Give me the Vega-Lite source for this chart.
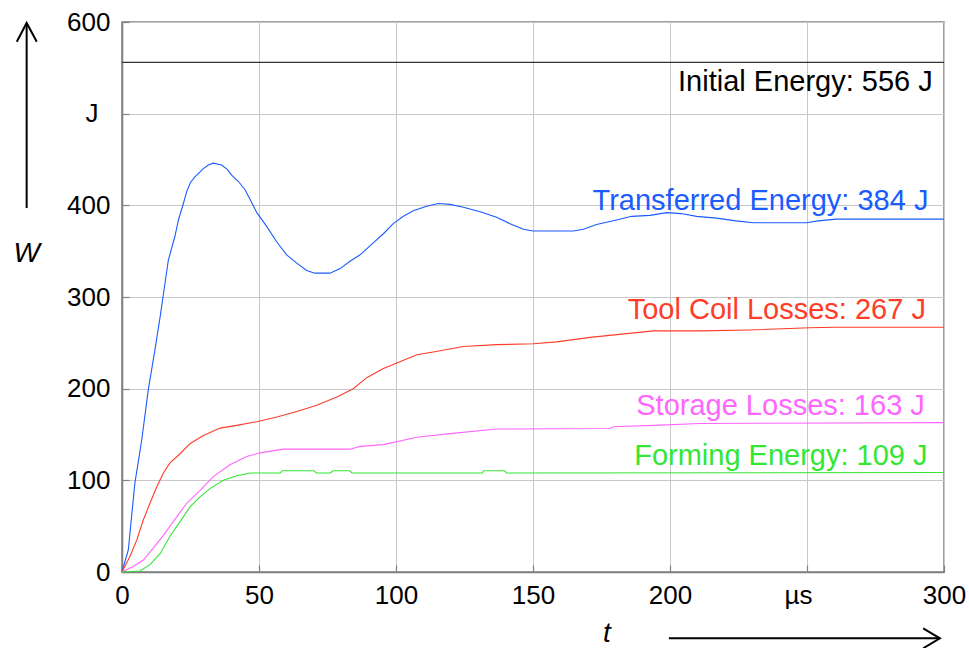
{
  "$schema": "https://vega.github.io/schema/vega-lite/v6.json",
  "width": 822,
  "height": 550,
  "autosize": {"type": "none"},
  "padding": {"left": 122, "top": 22, "right": 25, "bottom": 76},
  "background": "white",
  "config": {
    "font": "Liberation Sans",
    "view": {"stroke": "#808080", "strokeWidth": 1.5},
    "axis": {
      "labelFont": "Liberation Sans",
      "labelFontSize": 26,
      "labelColor": "black",
      "gridColor": "#c8c8c8",
      "gridWidth": 1,
      "domainColor": "#808080",
      "domainWidth": 1.5,
      "ticks": true,
      "tickSize": -7,
      "tickColor": "#808080",
      "tickWidth": 1.2,
      "labelFlush": false,
      "labelOverlap": false,
      "labelBound": false,
      "title": null
    }
  },
  "datasets": {
    "curves": [
      {"series": "Initial", "t": 0, "W": 556}, {"series": "Initial", "t": 300, "W": 556},
      {"series": "Transferred", "t": 0, "W": 0}, {"series": "Transferred", "t": 2.3, "W": 24}, {"series": "Transferred", "t": 4.7, "W": 97}, {"series": "Transferred", "t": 7.2, "W": 144}, {"series": "Transferred", "t": 9.6, "W": 199}, {"series": "Transferred", "t": 12, "W": 242}, {"series": "Transferred", "t": 13.9, "W": 278}, {"series": "Transferred", "t": 15.7, "W": 315}, {"series": "Transferred", "t": 16.9, "W": 340}, {"series": "Transferred", "t": 19.3, "W": 366}, {"series": "Transferred", "t": 20.6, "W": 384}, {"series": "Transferred", "t": 22.4, "W": 402}, {"series": "Transferred", "t": 23.6, "W": 415}, {"series": "Transferred", "t": 25, "W": 425}, {"series": "Transferred", "t": 26.6, "W": 431}, {"series": "Transferred", "t": 29.7, "W": 440}, {"series": "Transferred", "t": 31.5, "W": 444}, {"series": "Transferred", "t": 33.3, "W": 446}, {"series": "Transferred", "t": 36.4, "W": 444}, {"series": "Transferred", "t": 38.5, "W": 439}, {"series": "Transferred", "t": 40, "W": 433}, {"series": "Transferred", "t": 42.5, "W": 426}, {"series": "Transferred", "t": 44.9, "W": 417}, {"series": "Transferred", "t": 47, "W": 405}, {"series": "Transferred", "t": 49.2, "W": 392}, {"series": "Transferred", "t": 52.8, "W": 377}, {"series": "Transferred", "t": 56.5, "W": 360}, {"series": "Transferred", "t": 60.1, "W": 346}, {"series": "Transferred", "t": 63.8, "W": 337}, {"series": "Transferred", "t": 67.4, "W": 329}, {"series": "Transferred", "t": 70.4, "W": 326}, {"series": "Transferred", "t": 75.9, "W": 326}, {"series": "Transferred", "t": 79.6, "W": 331}, {"series": "Transferred", "t": 83.2, "W": 339}, {"series": "Transferred", "t": 86.9, "W": 346}, {"series": "Transferred", "t": 91.7, "W": 359}, {"series": "Transferred", "t": 95.4, "W": 369}, {"series": "Transferred", "t": 99, "W": 380}, {"series": "Transferred", "t": 102.7, "W": 388}, {"series": "Transferred", "t": 106.3, "W": 394}, {"series": "Transferred", "t": 111.2, "W": 399}, {"series": "Transferred", "t": 115.5, "W": 402}, {"series": "Transferred", "t": 119.7, "W": 401}, {"series": "Transferred", "t": 124.6, "W": 398}, {"series": "Transferred", "t": 130.7, "W": 393}, {"series": "Transferred", "t": 136.7, "W": 387}, {"series": "Transferred", "t": 141.6, "W": 380}, {"series": "Transferred", "t": 146.5, "W": 374}, {"series": "Transferred", "t": 150.1, "W": 372}, {"series": "Transferred", "t": 164.7, "W": 372}, {"series": "Transferred", "t": 168.4, "W": 374}, {"series": "Transferred", "t": 173.2, "W": 379}, {"series": "Transferred", "t": 180.5, "W": 384}, {"series": "Transferred", "t": 186, "W": 388}, {"series": "Transferred", "t": 192.7, "W": 389}, {"series": "Transferred", "t": 198.8, "W": 392}, {"series": "Transferred", "t": 204, "W": 391}, {"series": "Transferred", "t": 209.7, "W": 388}, {"series": "Transferred", "t": 217, "W": 386}, {"series": "Transferred", "t": 224, "W": 383}, {"series": "Transferred", "t": 230.4, "W": 381}, {"series": "Transferred", "t": 249.9, "W": 381}, {"series": "Transferred", "t": 254, "W": 383}, {"series": "Transferred", "t": 260.8, "W": 385}, {"series": "Transferred", "t": 300, "W": 385},
      {"series": "Tool", "t": 0, "W": 0}, {"series": "Tool", "t": 2.9, "W": 17}, {"series": "Tool", "t": 5.4, "W": 35}, {"series": "Tool", "t": 7.8, "W": 57}, {"series": "Tool", "t": 10.2, "W": 75}, {"series": "Tool", "t": 12.7, "W": 93}, {"series": "Tool", "t": 15.1, "W": 108}, {"series": "Tool", "t": 17.5, "W": 119}, {"series": "Tool", "t": 21.2, "W": 129}, {"series": "Tool", "t": 24.8, "W": 140}, {"series": "Tool", "t": 29.7, "W": 149}, {"series": "Tool", "t": 35.8, "W": 157}, {"series": "Tool", "t": 41.9, "W": 160}, {"series": "Tool", "t": 49.2, "W": 164}, {"series": "Tool", "t": 56.5, "W": 169}, {"series": "Tool", "t": 63.8, "W": 175}, {"series": "Tool", "t": 71.1, "W": 182}, {"series": "Tool", "t": 78.4, "W": 191}, {"series": "Tool", "t": 84.4, "W": 200}, {"series": "Tool", "t": 89.3, "W": 212}, {"series": "Tool", "t": 95.4, "W": 222}, {"series": "Tool", "t": 100.3, "W": 228}, {"series": "Tool", "t": 107.6, "W": 237}, {"series": "Tool", "t": 113.6, "W": 240}, {"series": "Tool", "t": 124.6, "W": 246}, {"series": "Tool", "t": 136.7, "W": 248}, {"series": "Tool", "t": 150.1, "W": 249}, {"series": "Tool", "t": 158.6, "W": 251}, {"series": "Tool", "t": 170.8, "W": 256}, {"series": "Tool", "t": 184.2, "W": 260}, {"series": "Tool", "t": 193.9, "W": 263}, {"series": "Tool", "t": 211, "W": 263}, {"series": "Tool", "t": 229, "W": 264}, {"series": "Tool", "t": 251, "W": 266.5}, {"series": "Tool", "t": 260, "W": 267}, {"series": "Tool", "t": 300, "W": 267},
      {"series": "Storage", "t": 0, "W": 0}, {"series": "Storage", "t": 4.1, "W": 6}, {"series": "Storage", "t": 7.8, "W": 13}, {"series": "Storage", "t": 11.4, "W": 26}, {"series": "Storage", "t": 15.1, "W": 40}, {"series": "Storage", "t": 18.7, "W": 55}, {"series": "Storage", "t": 23.6, "W": 75}, {"series": "Storage", "t": 28.5, "W": 89}, {"series": "Storage", "t": 33.3, "W": 104}, {"series": "Storage", "t": 39.4, "W": 117}, {"series": "Storage", "t": 45.5, "W": 126}, {"series": "Storage", "t": 50.4, "W": 130}, {"series": "Storage", "t": 58.9, "W": 134}, {"series": "Storage", "t": 72.3, "W": 134}, {"series": "Storage", "t": 83.2, "W": 134}, {"series": "Storage", "t": 86.9, "W": 137}, {"series": "Storage", "t": 95.4, "W": 139}, {"series": "Storage", "t": 107.6, "W": 147}, {"series": "Storage", "t": 119.7, "W": 151}, {"series": "Storage", "t": 136.7, "W": 156}, {"series": "Storage", "t": 178, "W": 156.5}, {"series": "Storage", "t": 179.3, "W": 158.5}, {"series": "Storage", "t": 194, "W": 160}, {"series": "Storage", "t": 211, "W": 162}, {"series": "Storage", "t": 300, "W": 163},
      {"series": "Forming", "t": 0, "W": 0}, {"series": "Forming", "t": 6.6, "W": 1}, {"series": "Forming", "t": 10.2, "W": 8}, {"series": "Forming", "t": 13.9, "W": 20}, {"series": "Forming", "t": 17.5, "W": 39}, {"series": "Forming", "t": 21.2, "W": 55}, {"series": "Forming", "t": 24.8, "W": 71}, {"series": "Forming", "t": 28.5, "W": 82}, {"series": "Forming", "t": 32.1, "W": 91}, {"series": "Forming", "t": 37, "W": 100}, {"series": "Forming", "t": 41.9, "W": 105}, {"series": "Forming", "t": 46.7, "W": 108}, {"series": "Forming", "t": 57.7, "W": 108}, {"series": "Forming", "t": 58.5, "W": 110.5}, {"series": "Forming", "t": 70, "W": 110.5}, {"series": "Forming", "t": 71, "W": 108}, {"series": "Forming", "t": 76, "W": 108}, {"series": "Forming", "t": 77, "W": 110.5}, {"series": "Forming", "t": 83, "W": 110.5}, {"series": "Forming", "t": 84, "W": 108}, {"series": "Forming", "t": 131.5, "W": 108}, {"series": "Forming", "t": 132, "W": 110.5}, {"series": "Forming", "t": 139.5, "W": 110.5}, {"series": "Forming", "t": 140.4, "W": 108}, {"series": "Forming", "t": 300, "W": 108.5}
    ],
    "labels": [
      {"series": "Initial", "t": 295.9, "W": 525, "text": "Initial Energy: 556 J"},
      {"series": "Transferred", "t": 294.3, "W": 395, "text": "Transferred Energy: 384 J"},
      {"series": "Tool", "t": 293.4, "W": 275.7, "text": "Tool Coil Losses: 267 J"},
      {"series": "Storage", "t": 293, "W": 171, "text": "Storage Losses: 163 J"},
      {"series": "Forming", "t": 294, "W": 116.7, "text": "Forming Energy: 109 J"}
    ],
    "arrows": [
      {"seg": "v", "o": 0, "t": -34.8, "W": 397}, {"seg": "v", "o": 1, "t": -34.8, "W": 599},
      {"seg": "vh", "o": 0, "t": -38.4, "W": 578.5}, {"seg": "vh", "o": 1, "t": -34.8, "W": 599}, {"seg": "vh", "o": 2, "t": -31.1, "W": 578.5},
      {"seg": "h", "o": 0, "t": 199.6, "W": -72.3}, {"seg": "h", "o": 1, "t": 298.5, "W": -72.3},
      {"seg": "hh", "o": 0, "t": 292.4, "W": -61.4}, {"seg": "hh", "o": 1, "t": 298.5, "W": -72.3}, {"seg": "hh", "o": 2, "t": 292.4, "W": -83.2}
    ],
    "symbols": [
      {"t": -34.8, "W": 338.5, "text": "W"},
      {"t": 177, "W": -76.4, "text": "t"}
    ]
  },
  "encoding": {
    "x": {"field": "t", "type": "quantitative", "scale": {"domain": [0, 300], "nice": false, "zero": false},
      "axis": {"values": [0, 50, 100, 150, 200, 250, 300], "labelExpr": "datum.value == 250 ? 'µs' : datum.label", "labelPadding": 17, "labelOffset": {"condition": {"test": "datum.value == 250", "value": -9}, "value": 0}, "grid": true}},
    "y": {"field": "W", "type": "quantitative", "scale": {"domain": [0, 600], "nice": false, "zero": false},
      "axis": {"values": [0, 100, 200, 300, 400, 500, 600], "labelExpr": "datum.value == 500 ? 'J' : datum.label", "labelPadding": {"condition": {"test": "datum.value == 500", "value": 31}, "value": 19}, "grid": true}}
  },
  "layer": [
    {
      "data": {"name": "curves"},
      "mark": {"type": "line", "strokeWidth": 1.1, "interpolate": "linear"},
      "encoding": {
        "color": {"field": "series", "type": "nominal", "legend": null,
          "scale": {"domain": ["Initial", "Transferred", "Tool", "Storage", "Forming"], "range": ["#333333", "#1a5cff", "#ff3c28", "#ff66ff", "#33e633"]}},
        "detail": {"field": "series"}
      }
    },
    {
      "data": {"name": "labels"},
      "mark": {"type": "text", "align": "right", "baseline": "alphabetic", "fontSize": 29, "font": "Liberation Sans"},
      "encoding": {
        "text": {"field": "text"},
        "color": {"field": "series", "type": "nominal", "legend": null,
          "scale": {"domain": ["Initial", "Transferred", "Tool", "Storage", "Forming"], "range": ["#000000", "#1a5cff", "#ff3c28", "#ff66ff", "#33e633"]}}
      }
    },
    {
      "data": {"name": "arrows"},
      "mark": {"type": "line", "color": "black", "strokeWidth": 2, "clip": false},
      "encoding": {
        "detail": {"field": "seg"},
        "order": {"field": "o"}
      }
    },
    {
      "data": {"name": "symbols"},
      "mark": {"type": "text", "align": "center", "baseline": "alphabetic", "fontSize": 28, "fontStyle": "italic", "font": "Liberation Sans", "color": "black", "clip": false},
      "encoding": {"text": {"field": "text"}}
    }
  ],
  "resolve": {"scale": {"color": "independent"}}
}
